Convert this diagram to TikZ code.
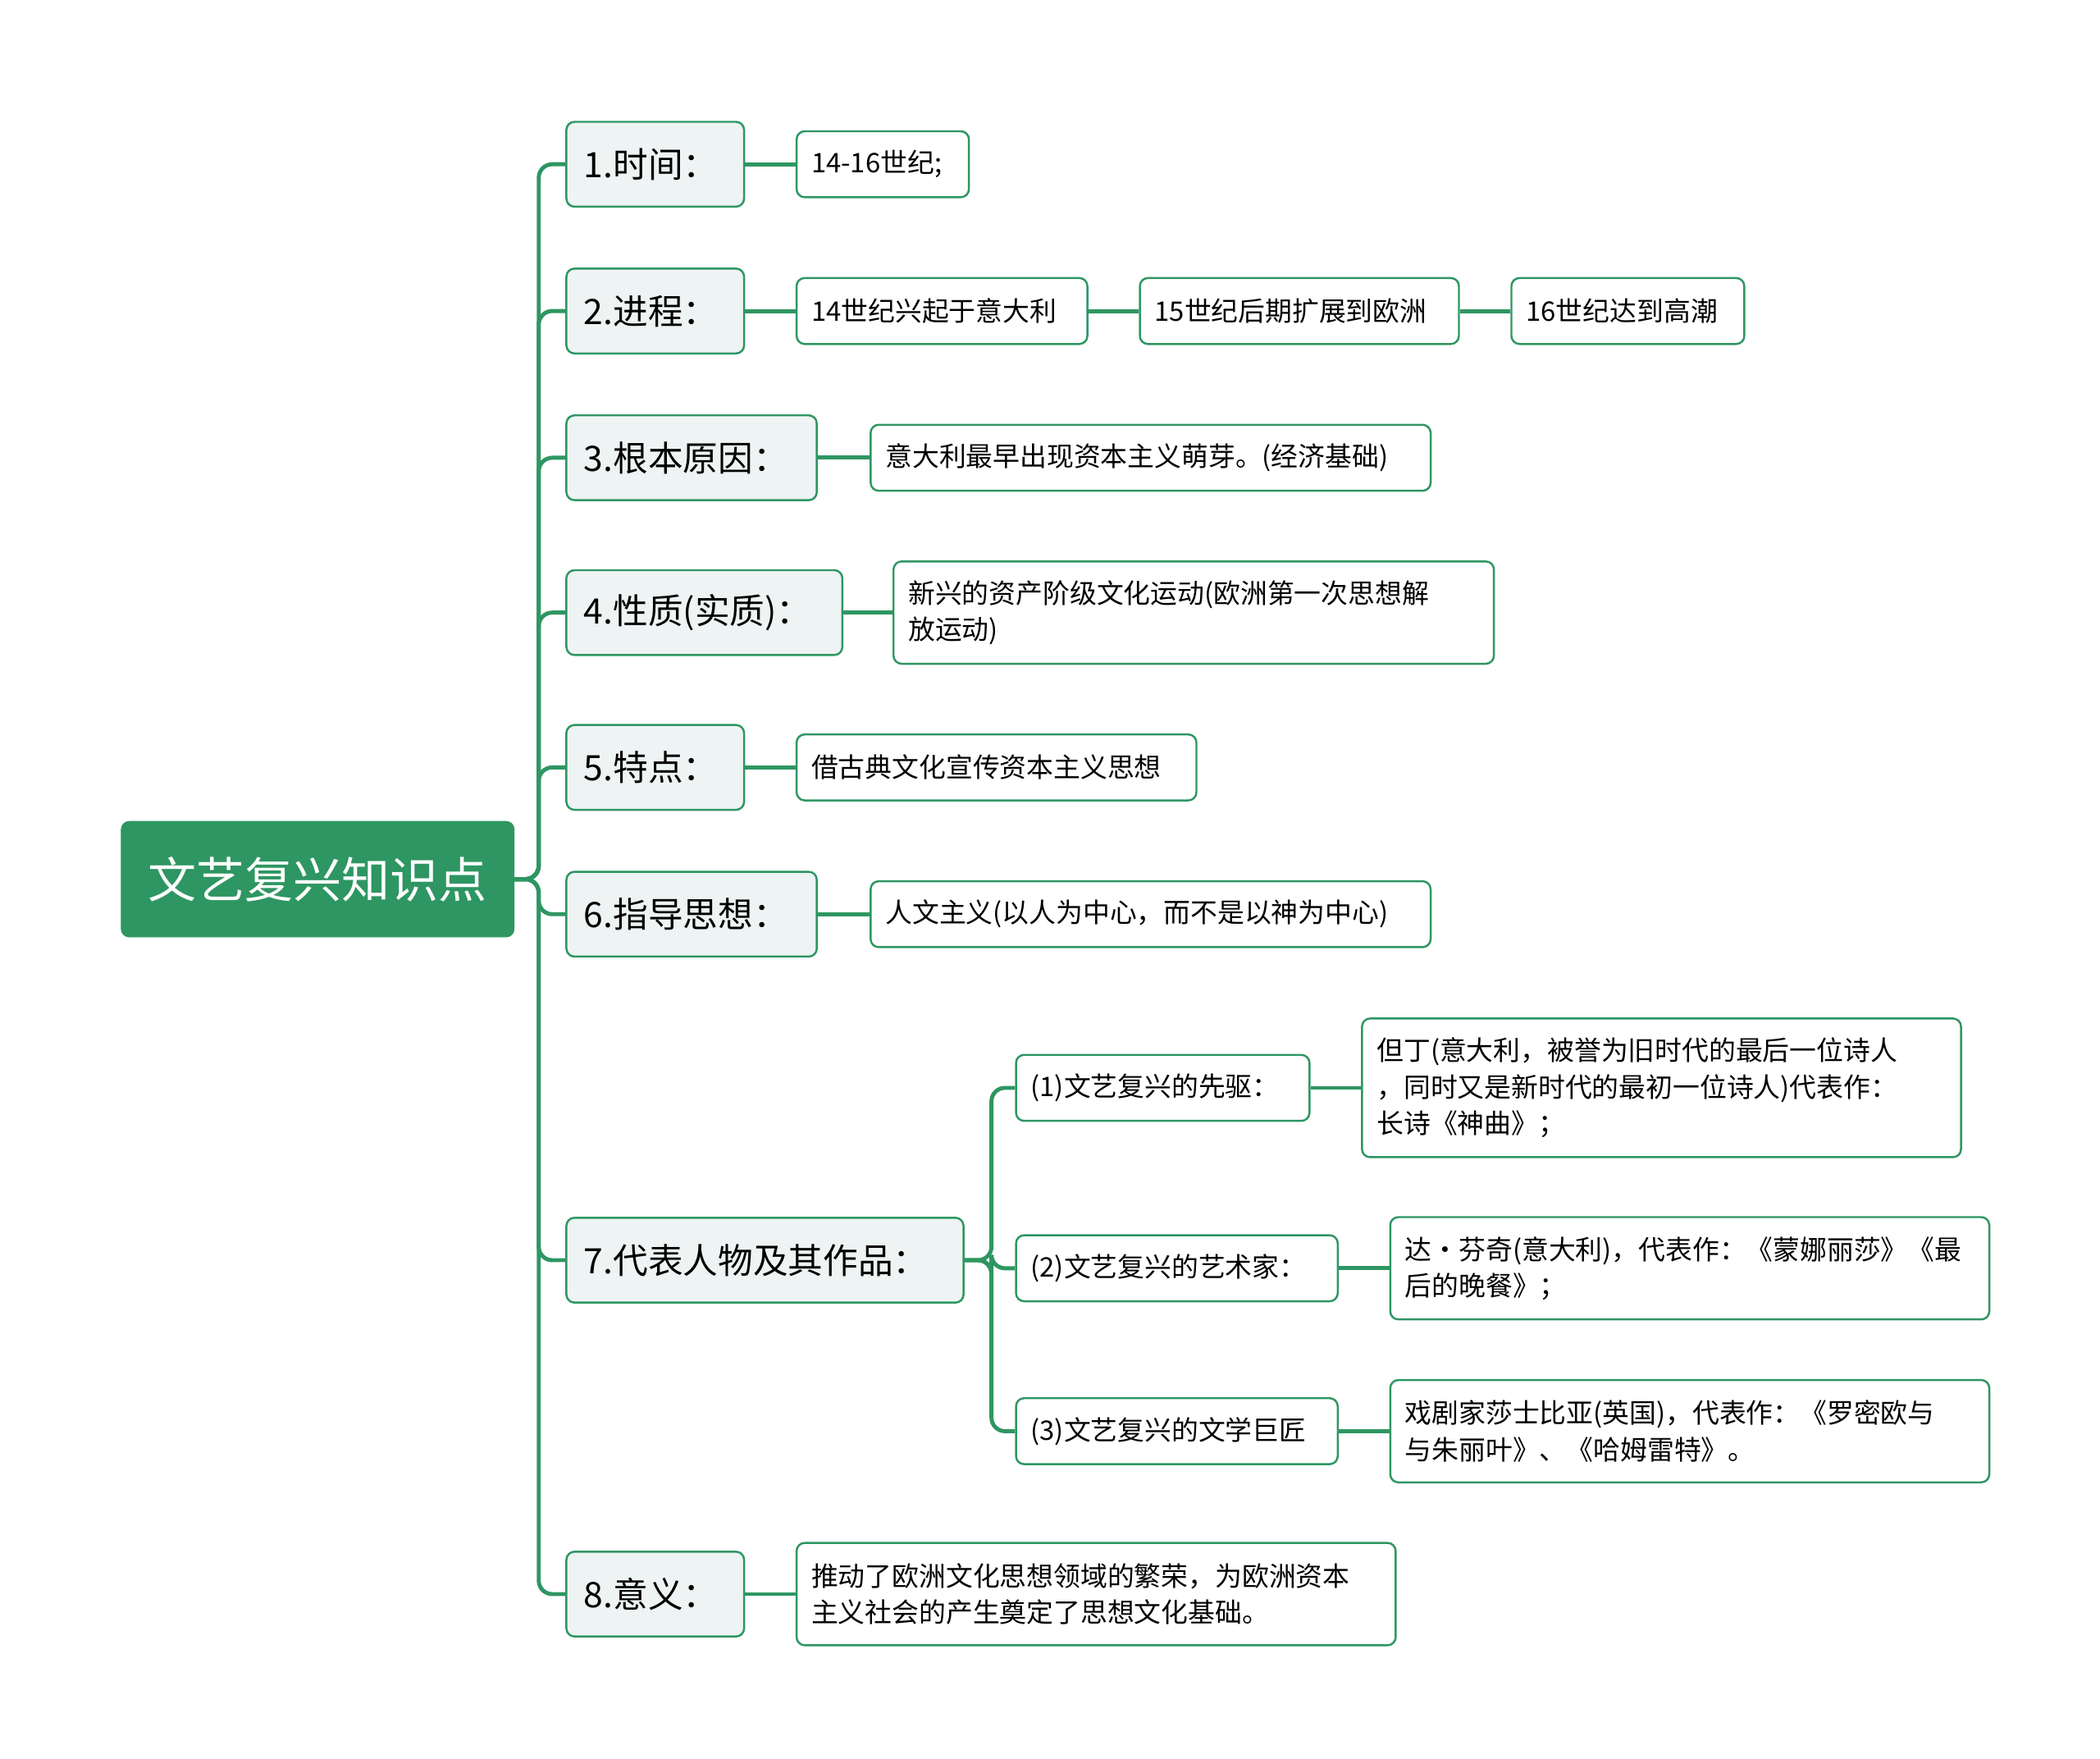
\documentclass[tikz,border=0pt]{standalone}
\usepackage{fontspec}
\setmainfont{Noto Sans CJK SC}
\usetikzlibrary{positioning}
\definecolor{mapgreen}{RGB}{46,150,98}
\definecolor{topfill}{RGB}{238,243,243}
\tikzset{
  conn/.style={draw=mapgreen,line width=3pt,rounded corners=10pt},
  rootbox/.style={fill=mapgreen,draw=mapgreen,text=white,rounded corners=6pt,
    font=\fontsize{36}{40}\selectfont,minimum height=86pt,minimum width=292pt,inner xsep=18pt},
  topbox/.style={fill=topfill,draw=mapgreen,line width=1.5pt,rounded corners=6pt,anchor=west,
    font=\fontsize{26}{30}\selectfont,minimum height=63pt,inner xsep=13pt,inner ysep=4pt,align=left},
  leafbox/.style={fill=white,draw=mapgreen,line width=1.5pt,rounded corners=6pt,anchor=west,
    font=\fontsize{20}{27}\selectfont,minimum height=49pt,inner xsep=11pt,inner ysep=4pt,align=left}
}
\begin{document}
\begin{tikzpicture}[x=1pt,y=-1pt]
\useasboundingbox (0,0) rectangle (1560,1306);

% root
\node[rootbox] (root) at (236,653) {文艺复兴知识点};

% first level
\node[topbox,text width=106pt] (t1) at (420,122) {1.时间：};
\node[topbox,text width=106pt] (t2) at (420,231) {2.进程：};
\node[topbox,text width=160pt] (t3) at (420,340) {3.根本原因：};
\node[topbox,text width=179pt] (t4) at (420,455) {4.性质(实质)：};
\node[topbox,text width=106pt] (t5) at (420,570) {5.特点：};
\node[topbox,text width=160pt] (t6) at (420,679) {6.指导思想：};
\node[topbox,text width=269pt] (t7) at (420,936) {7.代表人物及其作品：};
\node[topbox,text width=106pt] (t8) at (420,1184) {8.意义：};

% leaves
\node[leafbox,text width=106pt] (l1) at (591,122) {14-16世纪;};
\node[leafbox,text width=194pt] (l2a) at (591,231) {14世纪兴起于意大利};
\node[leafbox,text width=215pt] (l2b) at (846,231) {15世纪后期扩展到欧洲};
\node[leafbox,text width=151pt] (l2c) at (1122,231) {16世纪达到高潮};
\node[leafbox,text width=394pt] (l3) at (646,340) {意大利最早出现资本主义萌芽。(经济基础)};
\node[leafbox,text width=424pt,minimum height=76pt] (l4) at (663,455) {新兴的资产阶级文化运动(欧洲第一次思想解\\放运动)};
\node[leafbox,text width=275pt] (l5) at (591,570) {借古典文化宣传资本主义思想};
\node[leafbox,text width=394pt] (l6) at (646,679) {人文主义(以人为中心，而不是以神为中心)};
\node[leafbox,text width=196pt] (s1) at (754,808) {(1)文艺复兴的先驱：};
\node[leafbox,text width=217pt] (s2) at (754,942) {(2)文艺复兴的艺术家：};
\node[leafbox,text width=217pt] (s3) at (754,1063) {(3)文艺复兴的文学巨匠};
\node[leafbox,text width=423pt,minimum height=103pt] (w1) at (1011,808) {但丁(意大利，被誉为旧时代的最后一位诗人\\，同时又是新时代的最初一位诗人)代表作：\\长诗《神曲》；};
\node[leafbox,text width=423pt,minimum height=76pt] (w2) at (1032,942) {达·芬奇(意大利)，代表作：《蒙娜丽莎》《最\\后的晚餐》；};
\node[leafbox,text width=423pt,minimum height=76pt] (w3) at (1032,1063) {戏剧家莎士比亚(英国)，代表作：《罗密欧与\\与朱丽叶》、《哈姆雷特》。};
\node[leafbox,text width=423pt,minimum height=76pt] (l8) at (591,1184) {推动了欧洲文化思想领域的繁荣，为欧洲资本\\主义社会的产生奠定了思想文化基础。};

% connectors
\foreach \t in {t1,t2,t3,t4,t5,t6,t7,t8}
  \draw[conn] (root.east) -- ++(18,0) |- (\t.west);
\draw[conn] (t1) -- (l1);
\draw[conn] (t2) -- (l2a);
\draw[conn] (l2a) -- (l2b);
\draw[conn] (l2b) -- (l2c);
\draw[conn] (t3) -- (l3);
\draw[conn] (t4) -- (l4);
\draw[conn] (t5) -- (l5);
\draw[conn] (t6) -- (l6);
\foreach \s in {s1,s2,s3}
  \draw[conn] (t7.east) -- ++(20,0) |- (\s.west);
\draw[conn] (s1) -- (w1);
\draw[conn] (s2) -- (w2);
\draw[conn] (s3) -- (w3);
\draw[conn] (t8) -- (l8);
\end{tikzpicture}
\end{document}
